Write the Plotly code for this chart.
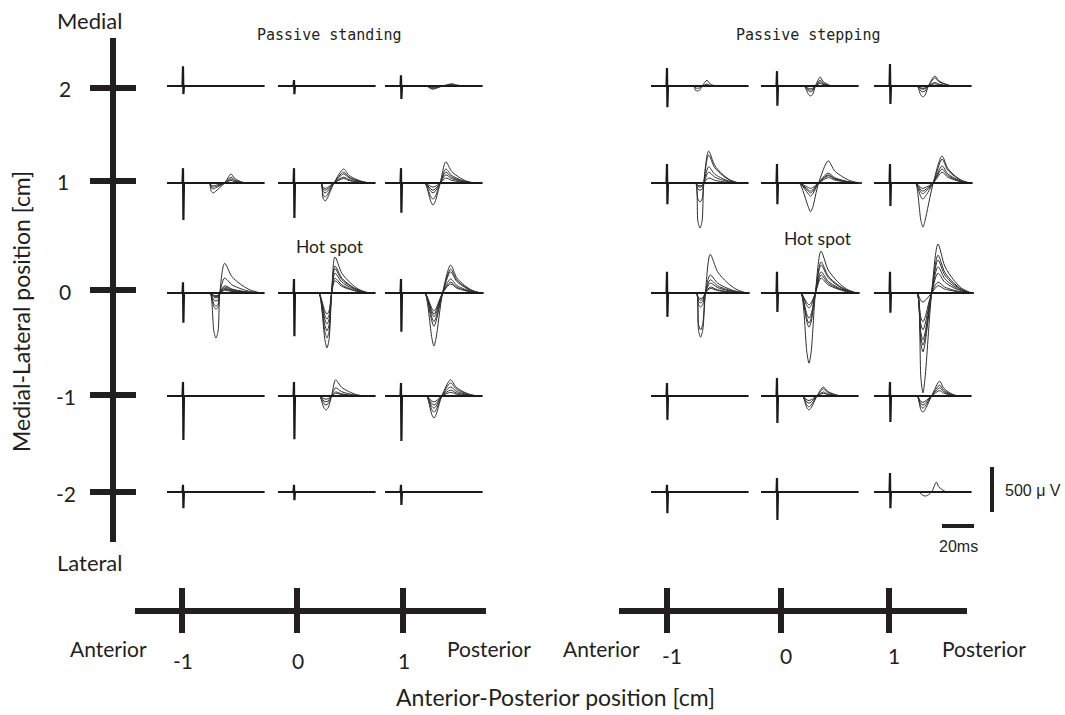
import plotly.graph_objects as go

# ---------------- data ----------------
ML_POSITIONS = [2, 1, 0, -1, -2]          # rows (cm)
AP_POSITIONS = [-1, 0, 1]                 # columns (cm)
ML_TICK_LABELS = ["2", "1", "0", "-1", "-2"]
AP_TICK_LABELS = ["-1", "0", "1"]
PANEL_TITLES = ["Passive standing", "Passive stepping"]
SCALE_MS = 20
SCALE_UV = 500

# stimulus artifact amplitudes (µV), rows x cols
STAND_ART_UP = [[220, 65, 120], [165, 165, 165], [120, 155, 155], [155, 155, 145], [80, 80, 80]]
STAND_ART_DOWN = [[90, 90, 145], [410, 390, 330], [330, 480, 430], [490, 480, 500], [180, 90, 145]]
STEP_ART_UP = [[200, 165, 245], [210, 210, 210], [235, 235, 235], [145, 200, 155], [80, 155, 210]]
STEP_ART_DOWN = [[235, 220, 200], [235, 235, 255], [265, 210, 220], [265, 300, 290], [235, 310, 180]]

# negative / positive peak amplitudes of each overlaid response (µV)
STAND_NEG = [
    [[], [], [35, 25, 15]],
    [[110, 65, 45, 30], [200, 155, 110, 80, 60], [245, 180, 110, 80, 45]],
    [[500, 180, 145, 90, 55, 40, 30], [610, 500, 420, 345, 290, 235], [590, 370, 320, 265, 235, 200]],
    [[], [155, 100, 65, 35], [245, 180, 135, 100, 65]],
    [[], [], []],
]
STAND_POS = [
    [[], [], [25, 15, 10]],
    [[100, 65, 45, 30], [155, 120, 100, 65, 50], [235, 155, 120, 90, 55]],
    [[330, 165, 80, 65, 50, 40, 30], [400, 300, 270, 220, 165, 135], [310, 265, 235, 155, 120, 100]],
    [[], [180, 90, 45, 30], [180, 145, 100, 65, 40]],
    [[], [], []],
]
STEP_NEG = [
    [[55, 25], [110, 65, 45, 30], [120, 65, 35, 25]],
    [[500, 210, 80, 45, 30], [320, 145, 110, 90, 60], [490, 180, 120, 90, 60]],
    [[490, 410, 155, 110, 80, 60], [780, 380, 335, 280, 165, 130], [1110, 655, 580, 520, 410, 320, 100]],
    [[], [155, 120, 80, 50], [180, 135, 100, 70]],
    [[], [], [45]],
]
STEP_POS = [
    [[65, 20], [100, 65, 45, 30], [110, 90, 40, 25]],
    [[355, 310, 180, 120, 55], [245, 110, 90, 80, 60], [300, 265, 190, 155, 120]],
    [[430, 200, 145, 110, 65, 50], [465, 345, 310, 235, 200, 165], [545, 420, 365, 290, 220, 120, 80]],
    [[], [100, 80, 45, 30], [165, 120, 90, 60]],
    [[], [], [110]],
]

# response timing (ms after stimulus): onset, neg peak, zero cross, pos peak, end
STAND_TIMING = [
    [None, None, (16, 20, 26, 32, 42)],
    [(16.5, 19, 26, 30, 40), (17, 19.5, 25, 31, 48), (15, 20, 24.5, 28, 46)],
    [(17, 20.6, 23, 26, 49), (15.6, 20.6, 23.5, 25.6, 47), (15, 20.6, 26, 31, 50)],
    [None, (16, 20, 23.5, 26, 44), (16, 20.6, 25.5, 31, 48)],
    [None, None, None],
]
STEP_TIMING = [
    [(17, 19, 22, 25, 31), (17, 21, 24, 27, 35), (17, 20.6, 24, 28, 40)],
    [(18, 20.6, 23, 26, 45), (14, 21, 26, 32, 52), (16, 20.6, 27, 32.5, 50)],
    [(18.5, 21, 24, 27, 50), (15, 20, 24, 27.5, 50), (17, 20.6, 26, 30, 51)],
    [None, (16, 20, 25, 29, 41), (17, 20.6, 26, 31, 43)],
    [None, None, (18, 22, 26, 29, 36)],
]
# decay of the positive wave (fraction of peak at fraction of pos->end interval)
TAIL_PROP = [0.0, 0.2, 0.45, 0.7, 1.0]
TAIL_FRAC = [1.0, 0.55, 0.28, 0.1, 0.0]
SWEEP = [-10, 51]   # ms

# ---------------- layout constants (pixels) ----------------
W, H = 1065, 715
PX_PER_MS = 1.6
PX_PER_UV = 0.09
X_RANGE = [-11, 53]
Y_RANGE = [-1200, 700]
ROW_BASE_PX = [86, 183, 293, 396, 492]
STIM_PX = [[183, 294, 401], [667, 777, 890]]
ML_TICK_PX = [88, 181, 290, 395, 492]
AP_TICK_PX = [[182, 297, 403], [667, 781, 889]]
AX_COLOR = "#231f20"
TXT = "#231f20"
FONT = "Lato"


def px(xp):
    return xp / W


def py(yp):
    return 1 - yp / H


fig = go.Figure()
layout_axes = {}
idx = 0


def add_axes(stim_px, base_px, xr, yr):
    global idx
    idx += 1
    x0 = stim_px + xr[0] * PX_PER_MS
    x1 = stim_px + xr[1] * PX_PER_MS
    ytop = base_px - yr[1] * PX_PER_UV
    ybot = base_px - yr[0] * PX_PER_UV
    sx = "" if idx == 1 else str(idx)
    layout_axes["xaxis" + sx] = dict(domain=[max(0, px(x0)), min(1, px(x1))], range=xr,
                                     visible=False, anchor="y" + sx, fixedrange=True)
    layout_axes["yaxis" + sx] = dict(domain=[max(0, py(ybot)), min(1, py(ytop))], range=yr,
                                     visible=False, anchor="x" + sx, fixedrange=True)
    return "x" + sx, "y" + sx


panels = [
    (STAND_ART_UP, STAND_ART_DOWN, STAND_NEG, STAND_POS, STAND_TIMING),
    (STEP_ART_UP, STEP_ART_DOWN, STEP_NEG, STEP_POS, STEP_TIMING),
]

for p, (aup, adn, negs, poss, timing) in enumerate(panels):
    for r in range(len(ML_POSITIONS)):
        for c in range(len(AP_POSITIONS)):
            xa, ya = add_axes(STIM_PX[p][c], ROW_BASE_PX[r], X_RANGE, Y_RANGE)
            # responses
            tm = timing[r][c]
            if tm is not None and negs[r][c]:
                ton, tneg, tcr, tpos, tend = tm
                xs, ys = [], []
                for n, q in zip(negs[r][c], poss[r][c]):
                    xs += [ton - 1.5, ton, tneg - 1.3, tneg, tneg + 1.3, tcr]
                    ys += [0, 0, -0.85 * n, -n, -0.85 * n, 0]
                    for pr, fr in zip(TAIL_PROP, TAIL_FRAC):
                        xs.append(tpos + pr * (tend - tpos))
                        ys.append(q * fr)
                    xs += [tend + 1.5, None]
                    ys += [0, None]
                fig.add_trace(go.Scatter(x=xs, y=ys, mode="lines", xaxis=xa, yaxis=ya,
                                         line=dict(color="#2e2e2e", width=1, shape="spline",
                                                   smoothing=0.8),
                                         hoverinfo="skip", showlegend=False))
            # baseline + stimulus artifact
            fig.add_trace(go.Scatter(
                x=[SWEEP[0], -0.3, 0, 0.25, 0.6, SWEEP[1]],
                y=[0, 0, aup[r][c], -adn[r][c], 0, 0],
                mode="lines", xaxis=xa, yaxis=ya,
                line=dict(color="#1a1a1a", width=2.2),
                hoverinfo="skip", showlegend=False))

# scale bars (own axes with same ms / µV scale)
xa, ya = add_axes(942, 526, [-2, 40], [-100, 700])
fig.add_trace(go.Scatter(
    x=[0, SCALE_MS, None, 31.25, 31.25],
    y=[0, 0, None, 155, 155 + SCALE_UV],
    mode="lines", xaxis=xa, yaxis=ya, line=dict(color=AX_COLOR, width=4),
    hoverinfo="skip", showlegend=False))

shapes = []


def seg(x0, y0, x1, y1, w=6):
    shapes.append(dict(type="line", xref="paper", yref="paper", x0=px(x0), y0=py(y0),
                       x1=px(x1), y1=py(y1), line=dict(color=AX_COLOR, width=w)))


# medial-lateral axis
seg(113, 38, 113, 542)
for yp in ML_TICK_PX:
    seg(90, yp, 136, yp)
# anterior-posterior axes
for p, (xa0, xa1) in enumerate([(135, 486), (619, 967)]):
    seg(xa0, 611, xa1, 611)
    for xp in AP_TICK_PX[p]:
        seg(xp, 588, xp, 633)

ann = []


def text(s, x, y, size=20, font=FONT, angle=0, xanchor="center"):
    ann.append(dict(text=s, x=px(x), y=py(y), xref="paper", yref="paper", showarrow=False,
                    xanchor=xanchor, yanchor="middle", textangle=angle,
                    font=dict(family=font, size=size, color=TXT)))


text("Medial", 89, 20, size=22)
text("Lateral", 90, 562, size=22)
for lab, yp, xp in zip(ML_TICK_LABELS, ML_TICK_PX, [65, 63, 65, 66, 66]):
    text(lab, xp, yp + 1, size=21)
text("Medial-Lateral position [cm]", 21, 312, size=23, angle=-90)
for p in range(2):
    for lab, xp in zip(AP_TICK_LABELS, AP_TICK_PX[p]):
        text(lab, xp + (5 if p else 1), 660 if p == 0 else 655, size=21)
text("Anterior", 108, 648, size=21)
text("Posterior", 489, 648, size=21)
text("Anterior", 601, 648, size=21)
text("Posterior", 984, 648, size=21)
text("Anterior-Posterior position [cm]", 555, 697, size=23)
text(PANEL_TITLES[0], 329, 35, size=15, font="DejaVu Sans Mono")
text(PANEL_TITLES[1], 808, 35, size=15, font="DejaVu Sans Mono")
text("Hot spot", 330, 246, size=17.5)
text("Hot spot", 818, 238, size=17.5)
text("500 \u03bc V", 1003, 490, size=16, font="Liberation Sans", xanchor="left")
text("20ms", 958, 546, size=16, font="Liberation Sans")

fig.update_layout(width=W, height=H, margin=dict(l=0, r=0, t=0, b=0),
                  paper_bgcolor="white", plot_bgcolor="rgba(0,0,0,0)",
                  shapes=shapes, annotations=ann, showlegend=False, **layout_axes)

fig.write_html("out.html", config={"displayModeBar": False},
               post_script="document.body.style.margin='0';")
